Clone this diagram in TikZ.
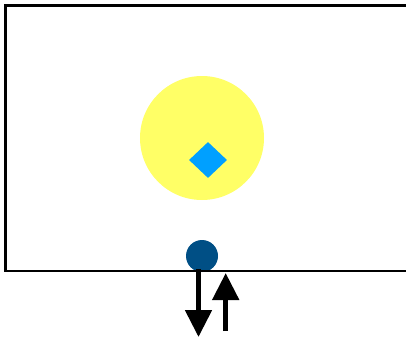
\documentclass[tikz,border=0pt]{standalone}
\usepackage{xcolor}
\usetikzlibrary{arrows.meta,positioning,shapes.geometric}
\definecolor{sunyellow}{HTML}{FFFF66}
\definecolor{gemblue}{HTML}{00A0FF}
\definecolor{portblue}{HTML}{004F85}

\begin{document}
\begin{tikzpicture}[
          x=1pt, y=-1pt,
          wall/.style={draw, line width=2.5pt},
          flow/.style={line width=5pt, -{Triangle[width=26pt,length=27pt]}}
      ]
        \useasboundingbox (0,0) rectangle (406,337);

        \node[circle, fill=sunyellow, minimum size=124pt, inner sep=0pt] (sun) at (202,138) {};
        \node[diamond, fill=gemblue, minimum width=38pt, minimum height=36pt, inner sep=0pt] (gem) at (208,160) {};
        \node[circle, fill=portblue, minimum size=32pt, inner sep=0pt] (port) at (202,256) {};

        % box, open to the right
        \draw[wall] (407,5.5) -- (5.5,5.5) -- (5.5,271) -- (407,271);

        \coordinate (outtop) at (198.5,269);
        \coordinate (outend) at (198.5,337);
        \coordinate (inbot) at (225.7,331);
        \coordinate (intop) at (225.7,273);
        \draw[flow] (outtop) -- (outend);
        \draw[flow] (inbot) -- (intop);
      \end{tikzpicture}
\end{document}
